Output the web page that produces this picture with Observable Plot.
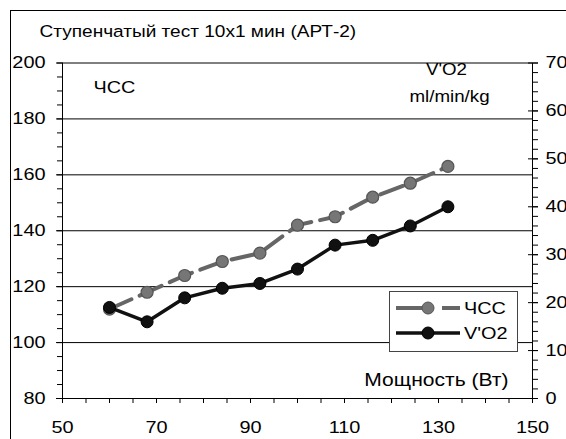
<!DOCTYPE html>
<html><head><meta charset="utf-8">
<script src="https://cdn.jsdelivr.net/npm/d3@7"></script>
<script src="https://cdn.jsdelivr.net/npm/@observablehq/plot@0.6"></script>
<style>
body{margin:0;background:#fff;}
#wrap{position:relative;width:566px;height:439px;overflow:hidden;background:#fff;}
#border{position:absolute;left:10px;top:10px;width:700px;height:700px;border:1px solid #000;box-sizing:border-box;}
#chart{position:absolute;left:0;top:0;}
</style></head><body><div id="wrap"><div id="border"></div><div id="chart"></div></div>
<script>
const power = [60, 68, 76, 84, 92, 100, 108, 116, 124, 132];
const hr = [112, 118, 124, 129, 132, 142, 145, 152, 157, 163];
const vo2 = [19, 16, 21, 23, 24, 27, 32, 33, 36, 40];
const xTicks = [50, 70, 90, 110, 130, 150];
const hrTicks = [80, 100, 120, 140, 160, 180, 200];
const vo2Ticks = [0, 10, 20, 30, 40, 50, 60, 70];
const seriesNames = ["ЧСС", "V'O2"];
const titleText = "Ступенчатый тест 10х1 мин (АРТ-2)";
const hrLabel = "ЧСС";
const voLabel1 = "V'O2";
const voLabel2 = "ml/min/kg";
const xLabel = "Мощность (Вт)";

const FONT = "'Liberation Sans', Arial, sans-serif";
const HR_MIN = 80, HR_MAX = 200, VO_MAX = 70;
const toLeft = v => HR_MIN + v * (HR_MAX - HR_MIN) / VO_MAX;
const fromLeft = y => Math.round((y - HR_MIN) * VO_MAX / (HR_MAX - HR_MIN));

const hrData = power.map((p, i) => ({p, v: hr[i]}));
const voData = power.map((p, i) => ({p, v: toLeft(vo2[i])}));
const xMinor = d3.range(50, 151, 5);
const hrMinor = d3.range(80, 201, 5);
const voMinor = d3.range(0, 71, 2).map(toLeft);
const voMajor = vo2Ticks.map(toLeft);

const fs = 17;
const plot = Plot.plot({
  width: 566, height: 439,
  marginLeft: 62, marginRight: 34, marginTop: 62.5, marginBottom: 41,
  style: {fontFamily: FONT, fontSize: fs + "px", color: "#000", background: "transparent"},
  x: {domain: [50, 150], axis: null},
  y: {domain: [80, 200], axis: null},
  marks: [
    Plot.ruleY(hrTicks.slice(1), {stroke: "#000", strokeWidth: 1}),
    // x axis
    Plot.axisX(xMinor, {anchor: "bottom", tickSize: 5, tickFormat: () => "", label: null, stroke: "#000"}),
    Plot.axisX(xTicks, {anchor: "bottom", tickSize: 5, tickPadding: 17, label: null, fontSize: fs, fill: "#000"}),
    // left axis
    Plot.axisY(hrMinor, {anchor: "left", tickSize: 5, tickFormat: () => "", label: null}),
    Plot.axisY(hrTicks, {anchor: "left", tickSize: 6, tickPadding: 11, label: null, fontSize: fs, fill: "#000"}),
    // right axis
    Plot.axisY(voMinor, {anchor: "right", tickSize: 5, tickFormat: () => "", label: null}),
    Plot.axisY(voMajor, {anchor: "right", tickSize: 10, dx: -5, tickFormat: () => "", label: null}),
    Plot.axisY(voMajor, {anchor: "right", tickSize: 0, tickPadding: 13, tickFormat: fromLeft, label: null, fontSize: fs, fill: "#000"}),
    Plot.ruleX([50, 150], {stroke: "#000"}),
    Plot.ruleY([80], {stroke: "#000"}),
    // series
    Plot.line(hrData, {x: "p", y: "v", stroke: "#666", strokeWidth: 4, strokeDasharray: "24,9"}),
    Plot.dot(hrData, {x: "p", y: "v", r: 6, fill: "#767676", stroke: "#555", strokeWidth: 1.2}),
    Plot.line(voData, {x: "p", y: "v", stroke: "#111", strokeWidth: 3.5}),
    Plot.dot(voData, {x: "p", y: "v", r: 6, fill: "#111", stroke: "#000", strokeWidth: 1}),
    // texts
    Plot.text([titleText], {text: d => d, frameAnchor: "top-left", dx: -23, dy: -31, textAnchor: "start", lineAnchor: "middle", fontSize: 16.3, fill: "#000"}),
    Plot.text([hrLabel], {text: d => d, frameAnchor: "top-left", dx: 31, dy: 24.5, textAnchor: "start", lineAnchor: "middle", fontSize: fs, fill: "#000"}),
    Plot.text([voLabel1], {text: d => d, frameAnchor: "top-right", dx: -86, dy: 7, textAnchor: "middle", lineAnchor: "middle", fontSize: 16, fill: "#000"}),
    Plot.text([voLabel2], {text: d => d, frameAnchor: "top-right", dx: -83, dy: 34, textAnchor: "middle", lineAnchor: "middle", fontSize: 16, fill: "#000"}),
    Plot.text([xLabel], {text: d => d, frameAnchor: "bottom-right", dx: -24, dy: -18, textAnchor: "end", lineAnchor: "middle", fontSize: 18, fill: "#000"})
  ]
});
document.getElementById("chart").appendChild(plot);

// legend
const svg = d3.select(plot);
const lg = svg.append("g").attr("font-family", FONT).attr("font-size", fs).attr("text-anchor", "start");
lg.append("rect").attr("x", 389.5).attr("y", 291.5).attr("width", 128).attr("height", 60)
  .attr("fill", "#fff").attr("stroke", "#444").attr("stroke-width", 1);
const entries = [
  {name: seriesNames[0], y: 308, stroke: "#666", fill: "#767676", dot: "#555", dash: "34,12", w: 4},
  {name: seriesNames[1], y: 333, stroke: "#111", fill: "#111", dot: "#000", dash: null, w: 3.5}
];
entries.forEach(e => {
  const l = lg.append("line").attr("x1", 396).attr("x2", 460).attr("y1", e.y).attr("y2", e.y)
    .attr("stroke", e.stroke).attr("stroke-width", e.w);
  if (e.dash) l.attr("stroke-dasharray", e.dash);
  lg.append("circle").attr("cx", 428).attr("cy", e.y).attr("r", 6).attr("fill", e.fill).attr("stroke", e.dot);
  lg.append("text").attr("transform", `translate(464,${e.y})`).attr("dy", "0.35em")
    .attr("text-anchor", "start").text(e.name);
});

// the reference's text is horizontally stretched (~1.17x); emulate with textLength
const STRETCH = 1.17;
svg.selectAll("text").each(function () {
  if (!this.textContent) return;
  const w = this.getComputedTextLength();
  if (w > 0) {
    this.setAttribute("textLength", (w * STRETCH).toFixed(2));
    this.setAttribute("lengthAdjust", "spacingAndGlyphs");
  }
});
</script>
</body></html>
